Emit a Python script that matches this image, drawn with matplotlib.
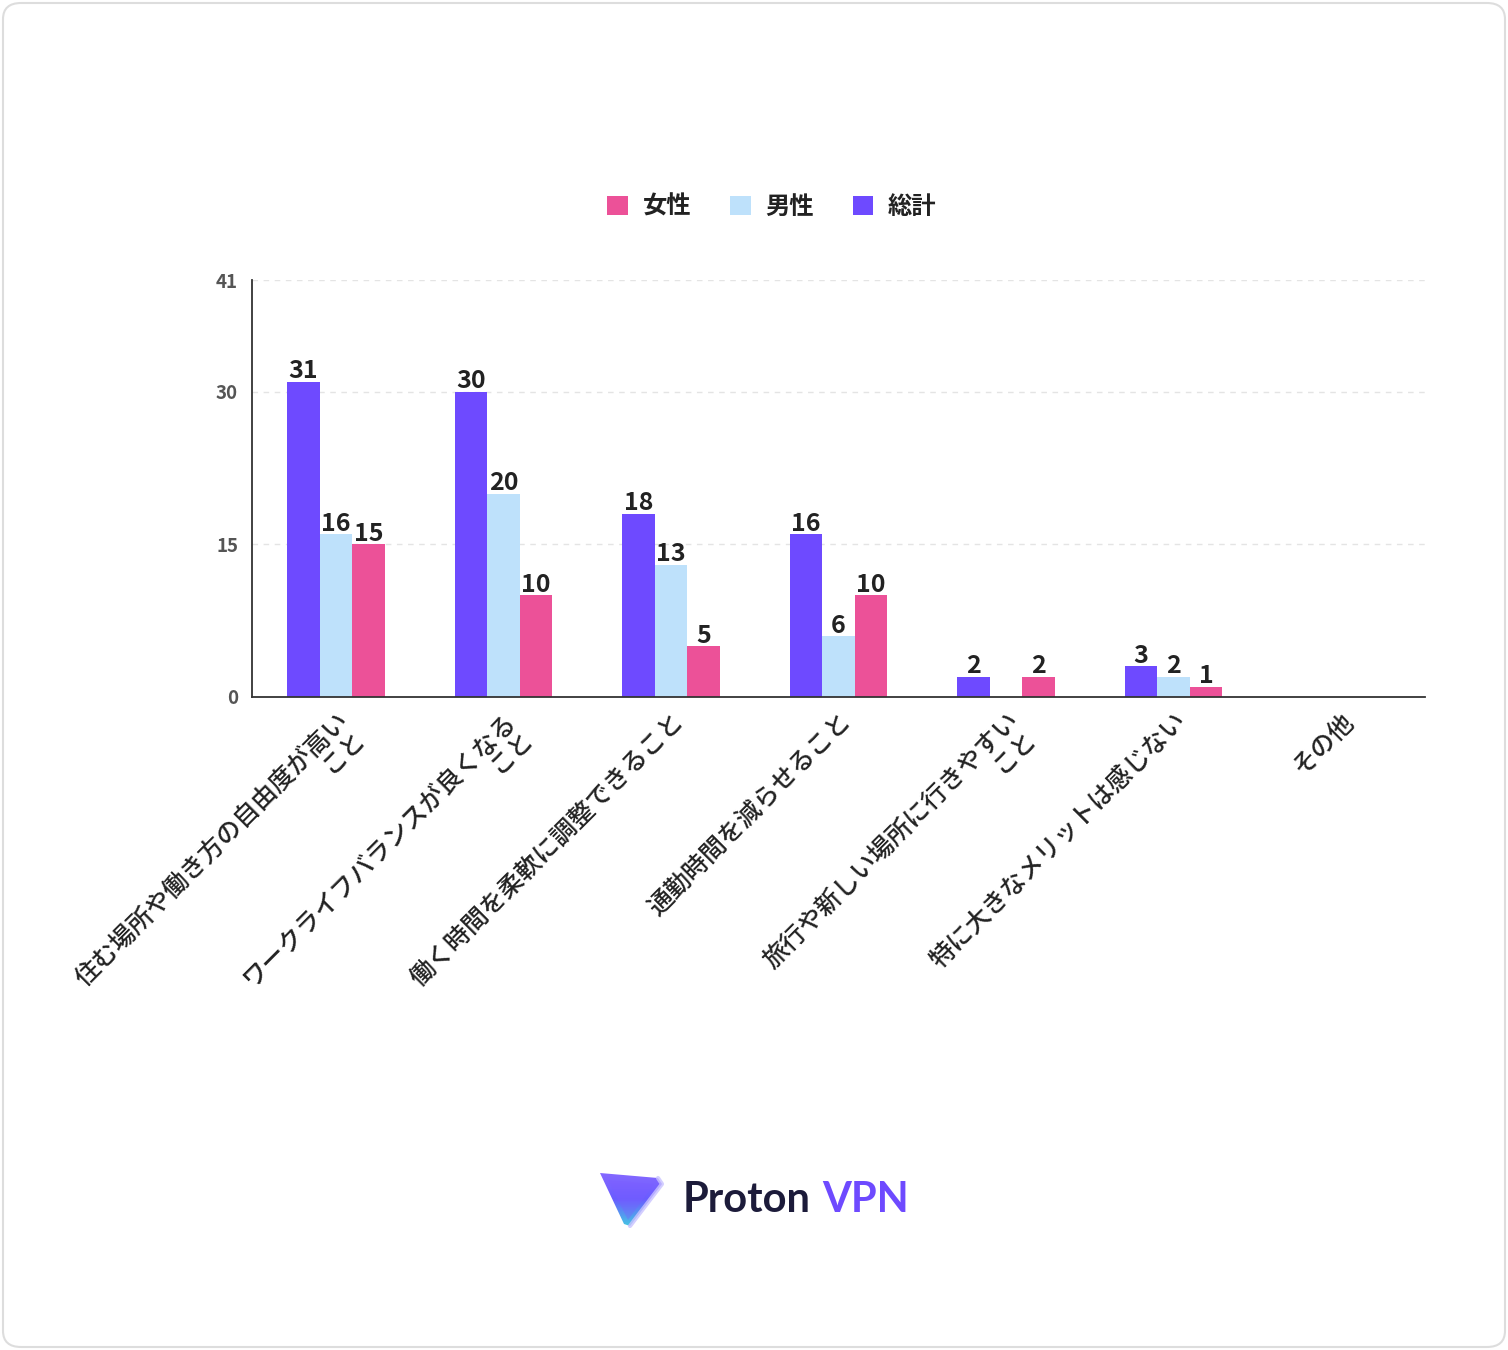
import matplotlib
matplotlib.use("Agg")
import matplotlib.pyplot as plt
from matplotlib.patches import FancyBboxPatch, Polygon
from matplotlib.colors import LinearSegmentedColormap
import numpy as np

plt.rcParams['font.family'] = ['Noto Sans CJK JP', 'DejaVu Sans']

# データ
categories = [
    "住む場所や働き方の自由度が高い\nこと",
    "ワークライフバランスが良くなる\nこと",
    "働く時間を柔軟に調整できること",
    "通勤時間を減らせること",
    "旅行や新しい場所に行きやすい\nこと",
    "特に大きなメリットは感じない",
    "その他",
]
total = [31, 30, 18, 16, 2, 3, 0]
male = [16, 20, 13, 6, 0, 2, 0]
female = [15, 10, 5, 10, 2, 1, 0]
yticks = [0, 15, 30, 41]

c_total = "#6E4AFF"
c_male = "#BEE1FB"
c_female = "#EC5198"
c_text = "#222222"

fig = plt.figure(figsize=(15.08, 13.5), dpi=100)
W, H = 1508, 1350

# カードの枠
card = FancyBboxPatch((3 / W, 3 / H), 1 - 6 / W, 1 - 6 / H,
                      boxstyle="round,pad=0,rounding_size=0.012",
                      transform=fig.transFigure, facecolor="white",
                      edgecolor="#dddddd", linewidth=1.5, zorder=-10)
fig.patches.append(card)

ax = fig.add_axes([252 / W, 1 - 697 / H, (1425 - 252) / W, (697 - 280) / H])
ax.set_facecolor("none")

x = np.arange(len(categories))
w = 0.194
b1 = ax.bar(x - w, total, w, color=c_total, label="総計")
b2 = ax.bar(x, male, w, color=c_male, label="男性")
b3 = ax.bar(x + w, female, w, color=c_female, label="女性")

for bars, vals in [(b1, total), (b2, male), (b3, female)]:
    for rect, v in zip(bars, vals):
        if v == 0:
            continue
        ax.text(rect.get_x() + rect.get_width() / 2, v - 0.15, str(v),
                ha="center", va="bottom", fontsize=18, fontweight="bold",
                color=c_text)

ax.set_xlim(-0.5, len(categories) - 0.5)
ax.set_ylim(0, 41)
ax.set_yticks(yticks)
ax.set_yticklabels([str(t) for t in yticks], fontsize=13.5,
                   fontweight="bold", color="#555555")
ax.tick_params(axis="y", length=0, pad=10)
ax.tick_params(axis="x", length=0, pad=8)

ax.set_xticks(x)
ax.set_xticklabels(categories, rotation=45, ha="right", va="top",
                   rotation_mode="anchor", fontsize=18, color=c_text,
                   fontweight="medium", linespacing=0.9)
for lbl in ax.get_xticklabels():
    lbl.set_multialignment("right")

for t in yticks[1:]:
    ax.axhline(t, color="#e4e4e4", linestyle=(0, (4, 4)), linewidth=1,
               zorder=0)

for s in ["top", "right"]:
    ax.spines[s].set_visible(False)
ax.spines["left"].set_color("#333333")
ax.spines["bottom"].set_color("#333333")
ax.spines["left"].set_linewidth(1.3)
ax.spines["bottom"].set_linewidth(1.3)

handles = [b3, b2, b1]
labels = ["女性", "男性", "総計"]
leg = fig.legend(handles, labels, loc="center", ncol=3,
                 bbox_to_anchor=(772 / W, 1 - 207 / H), frameon=False,
                 prop={"size": 17.5, "weight": "bold"}, handlelength=0.85,
                 handleheight=0.85, columnspacing=1.6, handletextpad=0.6)
for t in leg.get_texts():
    t.set_color(c_text)

# ロゴ
lax = fig.add_axes([598 / W, 1 - 1230 / H, 68 / W, 62 / H])
lax.set_xlim(0, 68)
lax.set_ylim(0, 62)
lax.axis("off")
grad = np.linspace(0, 1, 100).reshape(-1, 1)
cmap = LinearSegmentedColormap.from_list("pv", ["#3fd6e0", "#6a5cff", "#8a6bff"])
img = lax.imshow(grad, extent=(0, 68, 0, 62), origin="lower", cmap=cmap,
                 aspect="auto")
tri = Polygon([[2, 57], [60, 52], [64, 46], [32, 4], [26, 6]], closed=True,
              transform=lax.transData)
img.set_clip_path(tri)
lax.add_patch(Polygon([[10, 50], [56, 46], [30, 10]], closed=True,
                      facecolor="#7b5cff", alpha=0.35, edgecolor="none"))
lax.plot([60, 64, 32], [52, 46, 4], color="#c9c2ff", linewidth=3,
         solid_capstyle="round", alpha=0.8)

fig.text(683 / W, 1 - 1200 / H, "Proton", fontsize=30, fontweight="bold",
         color="#1c1b3a", va="center", ha="left", family="Lato")
fig.text(822 / W, 1 - 1200 / H, "VPN", fontsize=30, fontweight="bold",
         color="#6E4AFF", va="center", ha="left", family="Lato")

fig.savefig("out.png", dpi=100)
